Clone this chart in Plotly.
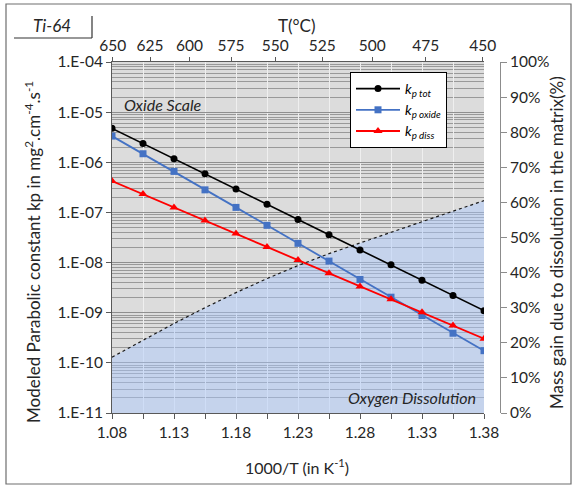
import plotly.graph_objects as go

# ---------------- data ----------------
inv_T = [1.08, 1.105, 1.13, 1.155, 1.18, 1.205, 1.23, 1.255, 1.28, 1.305, 1.33, 1.355, 1.38]
kp_tot = [4.75e-6, 2.38e-6, 1.17e-6, 5.9e-7, 2.92e-7, 1.45e-7, 7.25e-8, 3.6e-8, 1.79e-8,
          9.0e-9, 4.46e-9, 2.2e-9, 1.1e-9]
kp_oxide = [3.33e-6, 1.48e-6, 6.58e-7, 2.82e-7, 1.26e-7, 5.53e-8, 2.42e-8, 1.07e-8, 4.6e-9,
            2.04e-9, 8.8e-10, 3.9e-10, 1.75e-10]
kp_diss = [4.22e-7, 2.32e-7, 1.26e-7, 6.92e-8, 3.81e-8, 2.05e-8, 1.12e-8, 6.14e-9, 3.33e-9,
           1.86e-9, 1.02e-9, 5.56e-10, 3.03e-10]
mass_gain_pct = [15.9, 20.8, 25.5, 30.0, 34.3, 38.3, 42.0, 45.4, 48.5, 51.5, 54.5, 57.5, 60.5]

x_ticks = [1.08, 1.105, 1.13, 1.155, 1.18, 1.205, 1.23, 1.255, 1.28, 1.305, 1.33, 1.355, 1.38]
x_ticklabels = ["1.08", "", "1.13", "", "1.18", "", "1.23", "", "1.28", "", "1.33", "", "1.38"]
y_tickvals = [1e-11, 1e-10, 1e-9, 1e-8, 1e-7, 1e-6, 1e-5, 1e-4]
y_ticklabels = ["1.E-11", "1.E-10", "1.E-09", "1.E-08", "1.E-07", "1.E-06", "1.E-05", "1.E-04"]
T_labels = [650, 625, 600, 575, 550, 525, 500, 475, 450]
T_positions = [1000.0 / (t + 273.15) for t in T_labels]
pct_ticks = [0, 10, 20, 30, 40, 50, 60, 70, 80, 90, 100]
pct_labels = [f"{p}%" for p in pct_ticks]

FONT = "Lato"
TXT = "#262626"
AX = "#595959"
TICKSIZE = 15.5

fig = go.Figure()

# blue dissolution area (percentage axis = primary y, drawn beneath)
fig.add_trace(go.Scatter(
    x=inv_T, y=mass_gain_pct, xaxis="x", yaxis="y", mode="lines",
    line=dict(color="#1a1a1a", width=1.2, dash="dot"),
    fill="tozeroy", fillcolor="rgba(170,200,255,0.46)",
    showlegend=False, hoverinfo="skip"))

# carrier for the top temperature axis (invisible)
fig.add_trace(go.Scatter(
    x=T_positions, y=[None] * len(T_positions), xaxis="x2", yaxis="y2",
    mode="markers", marker=dict(opacity=0), showlegend=False, hoverinfo="skip"))

fig.add_trace(go.Scatter(
    x=inv_T, y=kp_tot, xaxis="x", yaxis="y2", mode="lines+markers",
    name="<i>k<sub>p tot</sub></i>",
    line=dict(color="#000000", width=1.6),
    marker=dict(symbol="circle", size=7, color="#000000")))
fig.add_trace(go.Scatter(
    x=inv_T, y=kp_oxide, xaxis="x", yaxis="y2", mode="lines+markers",
    name="<i>k<sub>p oxide</sub></i>",
    line=dict(color="#4472c4", width=1.8),
    marker=dict(symbol="square", size=7, color="#4472c4")))
fig.add_trace(go.Scatter(
    x=inv_T, y=kp_diss, xaxis="x", yaxis="y2", mode="lines+markers",
    name="<i>k<sub>p diss</sub></i>",
    line=dict(color="#ff0000", width=1.8),
    marker=dict(symbol="triangle-up", size=8, color="#ff0000")))

dom_x = (484 - 112) / 388.0

fig.update_layout(
    width=576, height=488,
    margin=dict(l=112, r=76, t=62, b=75),
    paper_bgcolor="white",
    plot_bgcolor="#dcdcdc",
    font=dict(family=FONT, size=14, color=TXT),
    xaxis=dict(
        domain=[0, dom_x], range=[1.08, 1.38], anchor="y2",
        tickvals=x_ticks, ticktext=x_ticklabels,
        showgrid=True, gridcolor="#efefef", gridwidth=1,
        showline=True, linecolor=AX, linewidth=1,
        ticks="outside", ticklen=5, tickcolor=AX,
        tickfont=dict(size=TICKSIZE, color=TXT), zeroline=False),
    xaxis2=dict(
        overlaying="x", side="top", anchor="y2",
        range=[1.0826, 1.3839],
        tickvals=T_positions, ticktext=[str(t) for t in T_labels],
        showgrid=False, showline=True, linecolor=AX, linewidth=1,
        ticks="outside", ticklen=4, tickcolor=AX,
        tickfont=dict(size=TICKSIZE, color=TXT), zeroline=False),
    yaxis=dict(
        range=[0, 100], side="right", anchor="free", position=1.0,
        tickvals=pct_ticks, ticktext=pct_labels,
        showgrid=False, showline=True, linecolor="#8c8c8c", linewidth=1,
        ticks="outside", ticklen=6, tickcolor="#8c8c8c",
        tickfont=dict(size=TICKSIZE, color=TXT), zeroline=False),
    yaxis2=dict(
        type="log", range=[-11, -4], overlaying="y", side="left", anchor="x",
        tickvals=y_tickvals, ticktext=y_ticklabels,
        showgrid=True, gridcolor="#8f8f8f", gridwidth=1,
        minor=dict(dtick="D1", showgrid=True, gridcolor="#999999", gridwidth=1, ticks=""),
        showline=True, linecolor=AX, linewidth=1,
        ticks="outside", ticklen=5, tickcolor=AX,
        tickfont=dict(size=TICKSIZE, color=TXT), zeroline=False),
    legend=dict(
        x=(350 - 112) / 388.0, y=(413 - 72) / 351.0, xanchor="left", yanchor="top",
        bgcolor="white", bordercolor="#000000", borderwidth=1,
        font=dict(family=FONT, size=14, color="#000000"),
        tracegroupgap=0, itemwidth=44),
    showlegend=True,
)

ann = [
    dict(text="Modeled Parabolic constant kp in mg<sup>2</sup>.cm<sup>-4</sup>.s<sup>-1</sup>",
         x=(33 - 112) / 388.0, y=(413 - 252) / 351.0, textangle=-90, font=dict(size=17)),
    dict(text="Mass gain due to dissolution in the matrix(%)",
         x=(556 - 112) / 388.0, y=(413 - 243) / 351.0, textangle=-90, font=dict(size=17)),
    dict(text="T(°C)", x=(297 - 112) / 388.0, y=(413 - 25) / 351.0, font=dict(size=17)),
    dict(text="1000/T (in K<sup>-1</sup>)", x=(297 - 112) / 388.0, y=(413 - 467) / 351.0,
         font=dict(size=16)),
    dict(text="<i>Ti-64</i>", x=(52 - 112) / 388.0, y=(413 - 25) / 351.0, font=dict(size=17)),
    dict(text="<i>Oxide Scale</i>", x=(122 - 112) / 388.0, y=(413 - 104) / 351.0,
         xanchor="left", font=dict(size=16)),
    dict(text="<i>Oxygen Dissolution</i>", x=(478 - 112) / 388.0, y=(413 - 397) / 351.0,
         xanchor="right", font=dict(size=16)),
]
for a in ann:
    a.setdefault("xanchor", "center")
    a.update(xref="paper", yref="paper", showarrow=False, yanchor="middle")
    f = a.get("font", {})
    f.setdefault("family", FONT)
    f.setdefault("color", TXT)
    a["font"] = f
fig.update_layout(annotations=ann)


def px(xp):
    return (xp - 112) / 388.0


def py(yp):
    return (413 - yp) / 351.0


shapes = [
    dict(type="rect", x0=px(6), x1=px(571), y0=py(484), y1=py(4),
         line=dict(color="#6e6e6e", width=1.2)),
    dict(type="line", x0=px(14), x1=px(92), y0=py(38), y1=py(38),
         line=dict(color="#333333", width=1.2)),
    dict(type="line", x0=px(92), x1=px(92), y0=py(38), y1=py(16),
         line=dict(color="#333333", width=1.2)),
]
for s in shapes:
    s.update(xref="paper", yref="paper", layer="above")
fig.update_layout(shapes=shapes)

fig.write_html("out.html")
